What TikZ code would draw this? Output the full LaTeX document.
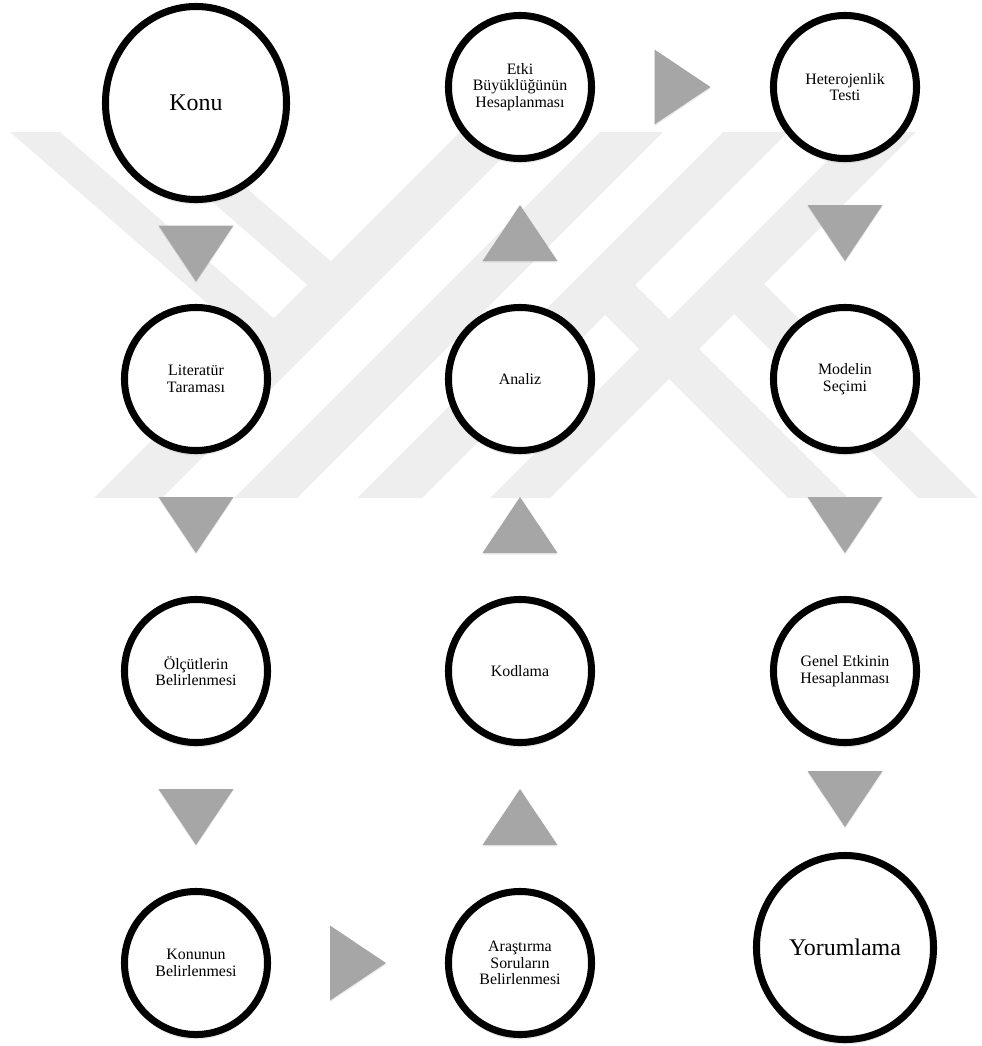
\documentclass[tikz,border=0pt]{standalone}
\usepackage{fontspec}
\setmainfont{Liberation Serif}
\usetikzlibrary{shapes.geometric, shadows, calc}

\definecolor{okgri}{HTML}{A6A6A6}
\definecolor{filigrangri}{HTML}{EEEEEE}

\tikzset{
  golge/.style={drop shadow={shadow xshift=0pt, shadow yshift=-3.5pt, opacity=0.18}},
  adim/.style={circle, draw=black, line width=5pt, fill=white, minimum size=3.575cm, inner sep=0pt, align=center, font=\fontsize{11.3}{11.8}\selectfont, golge},
  buyuk/.style={ellipse, draw=black, line width=5pt, fill=white, inner sep=0pt, align=center, font=\fontsize{17}{20}\selectfont, golge},
  ok/.style={fill=okgri, drop shadow={shadow xshift=0pt, shadow yshift=-1.2pt, opacity=0.15}},
  filigran/.style={fill=filigrangri}
}

\newcommand{\okasagi}[1]{\fill[ok] ([shift={(-37.5,-28)}]#1) -- ++(75,0) -- ++(-37.5,56) -- cycle;}
\newcommand{\okyukari}[1]{\fill[ok] ([shift={(-37.5,28)}]#1) -- ++(75,0) -- ++(-37.5,-56) -- cycle;}
\newcommand{\oksag}[1]{\fill[ok] ([shift={(-28,-37.5)}]#1) -- ++(0,75) -- ++(56,-37.5) -- cycle;}

\begin{document}
\begin{tikzpicture}[x=0.025cm, y=-0.025cm]
\useasboundingbox (0,0) rectangle (981,1046);

% filigran
\begin{scope}
\clip (0,132) rectangle (981,498);
\fill[filigran] (460,132) -- (528,132) -- (162,498) -- (94,498) -- cycle;
\fill[filigran] (600,132) -- (663,132) -- (297,498) -- (234,498) -- cycle;
\fill[filigran] (723,132) -- (788,132) -- (422,498) -- (357,498) -- cycle;
\fill[filigran] (856,132) -- (916,132) -- (550,498) -- (490,498) -- cycle;
\fill[filigran] (10,132) -- (60,132) -- (292,334) -- (269,357) -- cycle;
\fill[filigran] (132,132) -- (182,132) -- (349,277) -- (326,301) -- cycle;
\fill[filigran] (719,299) -- (749,269) -- (978,498) -- (918,498) -- cycle;
\fill[filigran] (589,299) -- (619,269) -- (848,498) -- (788,498) -- cycle;
\end{scope}

\node[buyuk, minimum width=4.525cm, minimum height=4.825cm] (konu) at (196,103) {Konu};
\node[adim] (literatur) at (196,379) {Literatür\\Taraması};
\node[adim] (olcut) at (196,671) {Ölçütlerin\\Belirlenmesi};
\node[adim] (konunun) at (196,963) {Konunun\\Belirlenmesi};

\node[adim] (arastirma) at (520,963) {Araştırma\\Soruların\\Belirlenmesi};
\node[adim] (kodlama) at (520,671) {Kodlama};
\node[adim] (analiz) at (520,379) {Analiz};
\node[adim] (etki) at (520,87) {Etki\\Büyüklüğünün\\Hesaplanması};

\node[adim] (hetero) at (845,87) {Heterojenlik\\Testi};
\node[adim] (model) at (845,379) {Modelin\\Seçimi};
\node[adim] (genel) at (845,671) {Genel Etkinin\\Hesaplanması};
\node[buyuk, minimum width=4.425cm, minimum height=4.6cm] (yorum) at (845,947.5) {Yorumlama};

\coordinate (o1) at ($(konu.south)!0.5!(literatur.north)$);
\coordinate (o2) at ($(literatur.south)!0.5!(olcut.north)$);
\coordinate (o3) at ($(olcut.south)!0.5!(konunun.north)$);
\coordinate (o4) at ($(konunun.east)!0.5!(arastirma.west)$);
\coordinate (o5) at ($(arastirma.north)!0.5!(kodlama.south)$);
\coordinate (o6) at ($(kodlama.north)!0.5!(analiz.south)$);
\coordinate (o7) at ($(analiz.north)!0.5!(etki.south)$);
\coordinate (o8) at ($(etki.east)!0.5!(hetero.west)$);
\coordinate (o9) at ($(hetero.south)!0.5!(model.north)$);
\coordinate (o10) at ($(model.south)!0.5!(genel.north)$);
\coordinate (o11) at ($(genel.south)!0.5!(yorum.north)$);

\okasagi{o1}
\okasagi{o2}
\okasagi{o3}
\oksag{o4}
\okyukari{o5}
\okyukari{o6}
\okyukari{o7}
\oksag{o8}
\okasagi{o9}
\okasagi{o10}
\okasagi{o11}

\end{tikzpicture}
\end{document}
